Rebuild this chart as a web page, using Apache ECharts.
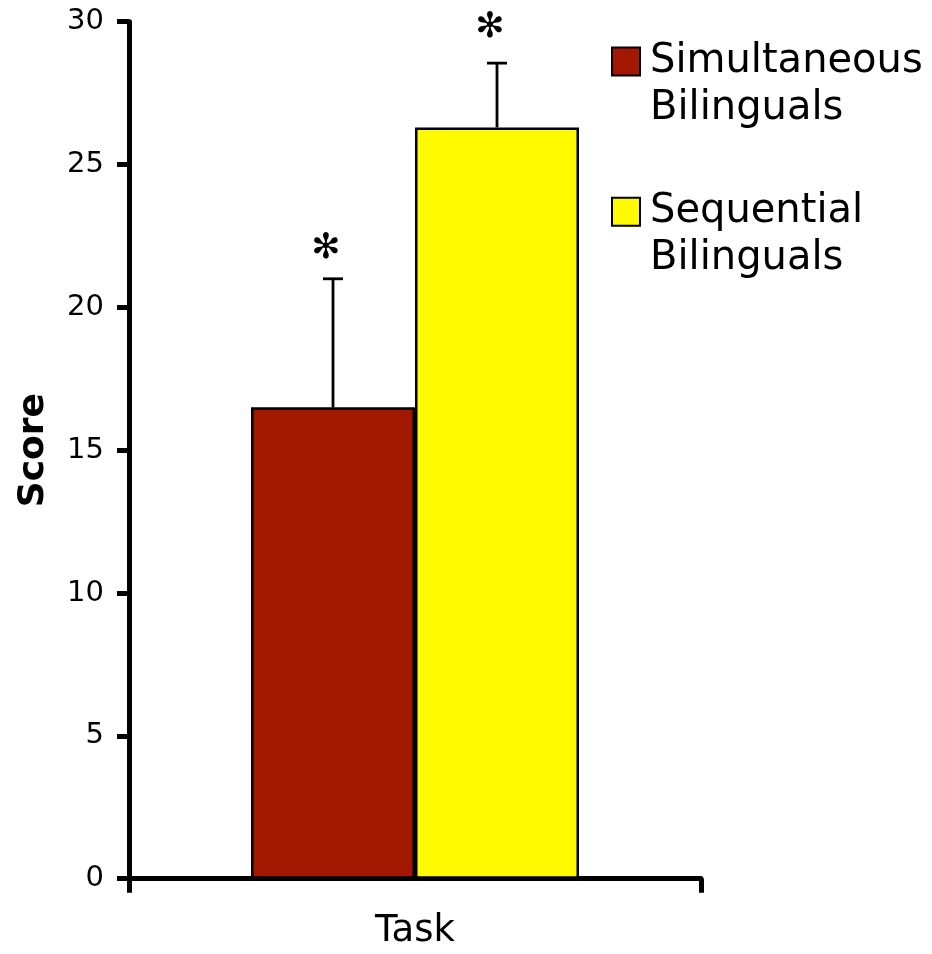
<!DOCTYPE html>
<html><head><meta charset="utf-8">
<script src="https://cdn.jsdelivr.net/npm/echarts@6/dist/echarts.min.js"></script>
<style>html,body{margin:0;padding:0;background:#fff}#c{width:932px;height:954px}</style>
</head><body><div id="c"></div>
<script>
const categories = ['Task'];
const seriesNames = ['Simultaneous Bilinguals', 'Sequential Bilinguals'];
const meanScores = [16.5, 26.3];
const errorUpper = [21.0, 28.55];
const starLevels = [22.05, 29.8];
const yMin = 0, yMax = 30, yStep = 5;
const colors = ['#A21800', '#FFFA00'];

const FONT = 'DejaVu Sans';
const BAR_W = 164;

function errSeries(i, offset) {
  return {
    type: 'custom',
    name: seriesNames[i] + ' error',
    data: [[0, meanScores[i], errorUpper[i], starLevels[i]]],
    encode: { x: 0, y: [1, 2, 3] },
    z: 5,
    renderItem: function (params, api) {
      const base = api.coord([api.value(0), api.value(1)]);
      const top = api.coord([api.value(0), api.value(2)]);
      const star = api.coord([api.value(0), api.value(3)]);
      const x = base[0] + offset;
      return {
        type: 'group',
        children: [
          { type: 'line', shape: { x1: x, y1: base[1], x2: x, y2: top[1] }, style: { stroke: '#000', lineWidth: 2.8 } },
          { type: 'line', shape: { x1: x - 10, y1: top[1], x2: x + 10, y2: top[1] }, style: { stroke: '#000', lineWidth: 2.8 } },
          { type: 'text', x: x - 7, y: star[1], style: { text: '\u273B', font: '35px "DejaVu Sans"', align: 'center', verticalAlign: 'middle', fill: '#000' } }
        ]
      };
    }
  };
}

function legendFor(i, top) {
  return {
    data: [seriesNames[i]],
    orient: 'vertical',
    left: 611, top: top,
    padding: 0,
    itemWidth: 28, itemHeight: 28, itemGap: 0,
    icon: 'rect',
    selectedMode: false,
    formatter: function (n) { return '\n' + n.replace(' ', '\n'); },
    itemStyle: { borderColor: '#000', borderWidth: 2 },
    textStyle: { fontFamily: FONT, fontSize: 40, lineHeight: 47, color: '#000', padding: [0, 0, 0, 5] }
  };
}

const chart = echarts.init(document.getElementById('c'), null, { renderer: 'canvas' });
chart.setOption({
  animation: false,
  backgroundColor: '#fff',
  grid: { left: 129, right: 231, top: 21.7, bottom: 75.3 },
  legend: [legendFor(0, -9), legendFor(1, 141.2)],
  xAxis: {
    type: 'category', data: categories,
    axisLine: { lineStyle: { color: '#000', width: 5 } },
    axisTick: { show: true, length: 14, lineStyle: { color: '#000', width: 5 }, alignWithLabel: false },
    axisLabel: { fontFamily: FONT, fontSize: 37, color: '#000', margin: 34 }
  },
  yAxis: {
    type: 'value', min: yMin, max: yMax, interval: yStep,
    name: 'Score', nameLocation: 'middle', nameRotate: 90, nameGap: 77,
    nameTextStyle: { fontFamily: FONT, fontSize: 36, fontWeight: 'bold', color: '#000' },
    axisLine: { show: true, lineStyle: { color: '#000', width: 5 } },
    axisTick: { show: true, length: 12, lineStyle: { color: '#000', width: 5 } },
    splitLine: { show: false },
    axisLabel: { fontFamily: FONT, fontSize: 29, color: '#000', margin: 25 }
  },
  series: [
    { type: 'bar', name: seriesNames[0], data: [meanScores[0]], barWidth: BAR_W, barGap: '0%',
      itemStyle: { color: colors[0], borderColor: '#000', borderWidth: 2.5 } },
    { type: 'bar', name: seriesNames[1], data: [meanScores[1]], barWidth: BAR_W, barGap: '0%',
      itemStyle: { color: colors[1], borderColor: '#000', borderWidth: 2.5 } },
    errSeries(0, -BAR_W / 2),
    errSeries(1, BAR_W / 2)
  ]
});
</script></body></html>
